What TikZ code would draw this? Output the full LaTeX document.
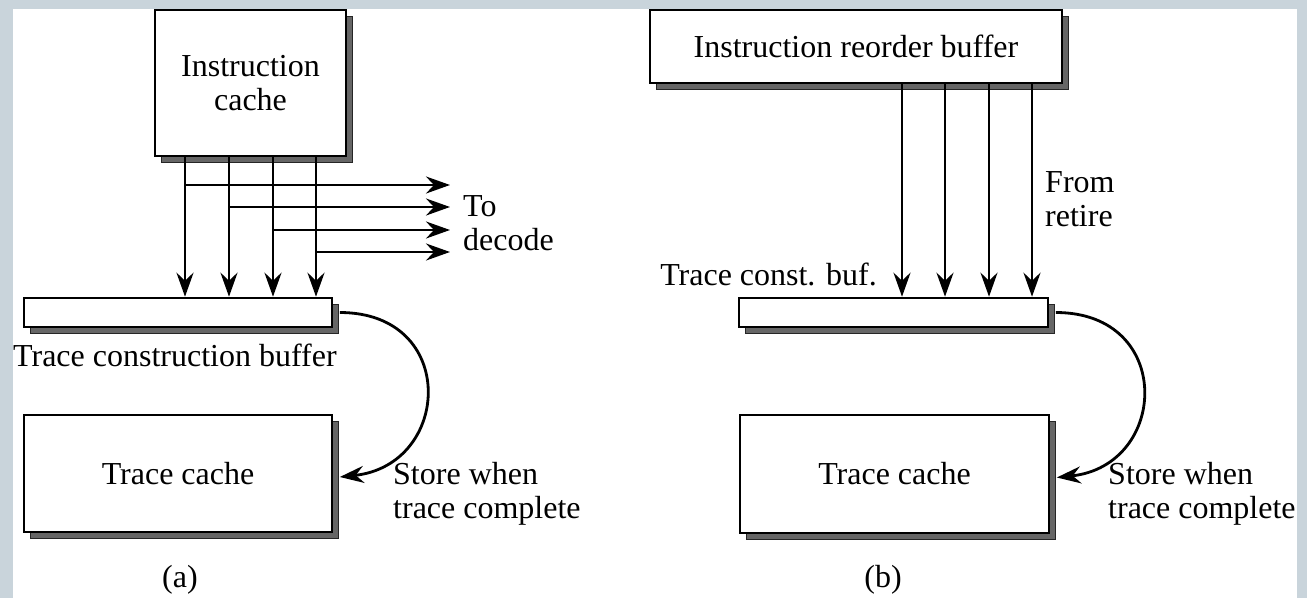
\documentclass[tikz,border=0pt]{standalone}
\usepackage{fontspec}
\setmainfont{Liberation Serif}
\usetikzlibrary{arrows.meta,shadows}
\definecolor{framec}{HTML}{C9D4DB}
\begin{document}
\begin{tikzpicture}[x=1pt,y=-1pt,
  every node/.style={font=\fontsize{32}{34}\selectfont, inner sep=0pt},
  box/.style={draw=black, line width=2.6pt, fill=white,
    copy shadow={shadow xshift=6.5pt, shadow yshift=-6.5pt, fill=black!60, draw=black!85, line width=1.8pt}},
  lbl/.style={align=left, anchor=west},
  arr/.style={line width=2.8pt, -{Stealth[length=24pt,width=17pt,inset=8pt]}}]
\useasboundingbox (0,0) rectangle (1307,598);
\fill[framec] (0,0) rectangle (1307,598);
\fill[white] (13,9) rectangle (1297,598);

% ---------- (a) ----------
\node[box, minimum width=191pt, minimum height=146pt, align=center] (ic) at (250.5,83) {Instruction\\cache};
\node[box, minimum width=308pt, minimum height=29pt] (tcb) at (178,312.5) {};
\node[box, minimum width=308pt, minimum height=117pt] (tc) at (178,473.5) {Trace cache};
\node[anchor=west] (tcbl) at (13,355) {Trace construction buffer};
\node[lbl] (todec) at (463,223) {To\\decode};
\node[lbl] (storea) at (393,494) {Store when\\trace complete};
\node (la) at (180,580) {(a)};

\foreach \x in {185,229,273,316}
  \draw[arr] (\x,0 |- ic.south) -- (\x,0 |- tcb.north);
\coordinate (ta1) at (450,185);
\coordinate (ta2) at (450,207);
\coordinate (ta3) at (450,230);
\coordinate (ta4) at (450,252);
\draw[arr] (185,0 |- ta1) -- (ta1);
\draw[arr] (229,0 |- ta2) -- (ta2);
\draw[arr] (273,0 |- ta3) -- (ta3);
\draw[arr] (316,0 |- ta4) -- (ta4);
\draw[arr] ([xshift=6.5pt]tcb.east) .. controls +(119,0) and +(112,-12) .. ([xshift=6.5pt,yshift=-3.5pt]tc.east);

% ---------- (b) ----------
\node[box, minimum width=412pt, minimum height=73pt] (irb) at (856,46.5) {Instruction reorder buffer};
\node[box, minimum width=309pt, minimum height=29pt] (tcb2) at (893.5,312.5) {};
\node[box, minimum width=309pt, minimum height=118pt] (tc2) at (894.5,474) {Trace cache};
\node[anchor=east] (tcbl2) at (877,274) {Trace const. buf.};
\node[lbl] (retire) at (1045,199) {From\\retire};
\node[lbl] (storeb) at (1108,494) {Store when\\trace complete};
\node (lb) at (883,580) {(b)};

\foreach \x in {902,945,989,1032}
  \draw[arr] (\x,0 |- irb.south) -- (\x,0 |- tcb2.north);
\draw[arr] ([xshift=6.5pt]tcb2.east) .. controls +(119,0) and +(112,-12) .. ([xshift=6.5pt,yshift=-3.5pt]tc2.east);
\end{tikzpicture}
\end{document}
